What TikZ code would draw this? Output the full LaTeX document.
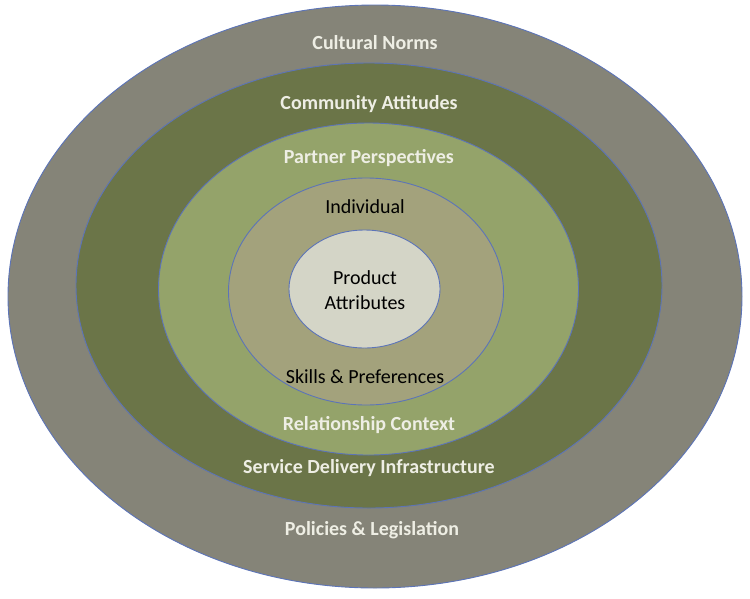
\documentclass[tikz,border=0pt]{standalone}
\usepackage{fontspec}
\setmainfont{Carlito}
\usepackage{tikz}
\definecolor{ringGray}{RGB}{133,132,120}
\definecolor{ringDark}{RGB}{107,117,72}
\definecolor{ringLight}{RGB}{148,163,106}
\definecolor{ringKhaki}{RGB}{163,162,124}
\definecolor{ringCore}{RGB}{212,213,199}
\definecolor{ringEdge}{RGB}{92,116,184}
\definecolor{labelLight}{RGB}{238,238,228}
\tikzset{
    ring/.style={draw=ringEdge, line width=0.9pt},
    outerlabel/.style={font=\fontsize{20}{24}\selectfont\bfseries, text=labelLight},
    innerlabel/.style={font=\fontsize{20}{25}\selectfont, text=black, align=center}
}

\begin{document}
\begin{tikzpicture}[x=1pt,y=-1pt]
        \useasboundingbox (0,0) rectangle (750,598);
        % rings, outside in
        \filldraw[ring, fill=ringGray] (375,296.5) ellipse (367 and 291.5);
        \filldraw[ring, fill=ringDark] (369,285.5) ellipse (293 and 222.5);
        \filldraw[ring, fill=ringLight] (368.5,289) ellipse (210 and 166);
        \filldraw[ring, fill=ringKhaki] (366,291.5) ellipse (137.5 and 113.5);
        \filldraw[ring, fill=ringCore] (364.5,289) ellipse (75.5 and 59);
        % labels
        \node[outerlabel] (norms) at (375,43) {Cultural Norms};
        \node[outerlabel] (community) at (369,104) {Community Attitudes};
        \node[outerlabel] (partner) at (369,158) {Partner Perspectives};
        \node[innerlabel] (individual) at (365,207) {Individual};
        \node[innerlabel] (product) at (365,290.5) {Product\\Attributes};
        \node[innerlabel] (skills) at (365,377) {Skills \& Preferences};
        \node[outerlabel] (relationship) at (369,425) {Relationship Context};
        \node[outerlabel] (service) at (369,468) {Service Delivery Infrastructure};
        \node[outerlabel] (policies) at (372,530) {Policies \& Legislation};
    \end{tikzpicture}
\end{document}
